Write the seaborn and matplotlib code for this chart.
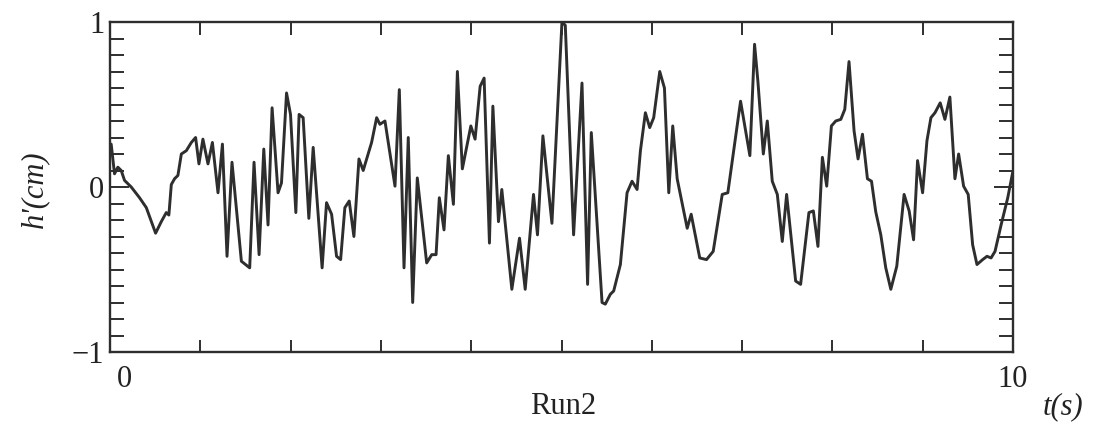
import numpy as np
import pandas as pd
import matplotlib
matplotlib.use("Agg")
import matplotlib.pyplot as plt
import seaborn as sns
from matplotlib.ticker import MultipleLocator

# ---- data ----
t_s = [0.013, 0.05, 0.087, 0.124, 0.161, 0.235, 0.327, 0.402, 0.505, 0.568, 0.623, 0.652, 0.679, 0.715,
       0.752, 0.790, 0.845, 0.901, 0.948, 0.985, 1.029, 1.085, 1.134, 1.196, 1.245, 1.296, 1.351, 1.455,
       1.547, 1.595, 1.651, 1.703, 1.750, 1.795, 1.861, 1.899, 1.955, 1.999, 2.058, 2.094, 2.139, 2.202,
       2.250, 2.349, 2.398, 2.454, 2.509, 2.554, 2.601, 2.649, 2.701, 2.757, 2.804, 2.897, 2.953, 2.989,
       3.045, 3.156, 3.204, 3.256, 3.303, 3.352, 3.403, 3.507, 3.563, 3.611, 3.647, 3.699, 3.747, 3.803,
       3.847, 3.902, 3.996, 4.043, 4.099, 4.143, 4.202, 4.240, 4.302, 4.339, 4.450, 4.535, 4.598, 4.690,
       4.734, 4.794, 4.894, 5.005, 5.042, 5.134, 5.227, 5.289, 5.330, 5.449, 5.485, 5.541, 5.578, 5.652,
       5.726, 5.781, 5.837, 5.874, 5.929, 5.977, 6.021, 6.088, 6.140, 6.188, 6.232, 6.281, 6.392, 6.436,
       6.531, 6.606, 6.680, 6.780, 6.842, 6.983, 7.086, 7.138, 7.175, 7.235, 7.279, 7.334, 7.390, 7.445,
       7.493, 7.593, 7.648, 7.740, 7.789, 7.840, 7.889, 7.937, 7.989, 8.037, 8.093, 8.137, 8.184, 8.240,
       8.284, 8.333, 8.388, 8.433, 8.480, 8.536, 8.591, 8.647, 8.713, 8.794, 8.850, 8.899, 8.943, 8.999,
       9.047, 9.091, 9.136, 9.194, 9.246, 9.301, 9.357, 9.398, 9.453, 9.504, 9.553, 9.601, 9.664, 9.712,
       9.757, 9.801, 9.868, 9.942, 9.997]
h_cm = [0.26, 0.08, 0.12, 0.10, 0.04, 0.0, -0.065, -0.125, -0.28, -0.21, -0.155, -0.17, 0.015, 0.05,
        0.07, 0.20, 0.22, 0.27, 0.30, 0.14, 0.29, 0.14, 0.27, -0.035, 0.26, -0.42, 0.15, -0.45,
        -0.49, 0.15, -0.41, 0.23, -0.23, 0.48, -0.035, 0.025, 0.57, 0.44, -0.155, 0.44, 0.42, -0.19,
        0.24, -0.49, -0.095, -0.165, -0.42, -0.44, -0.125, -0.085, -0.30, 0.17, 0.10, 0.27, 0.42, 0.38,
        0.40, 0.005, 0.59, -0.49, 0.30, -0.70, 0.055, -0.46, -0.41, -0.41, -0.065, -0.26, 0.19, -0.105,
        0.70, 0.11, 0.37, 0.29, 0.61, 0.66, -0.34, 0.49, -0.21, -0.015, -0.62, -0.31, -0.62, -0.045,
        -0.29, 0.31, -0.22, 1.0, 0.98, -0.29, 0.63, -0.59, 0.33, -0.70, -0.71, -0.65, -0.63, -0.47,
        -0.035, 0.035, -0.015, 0.22, 0.45, 0.36, 0.42, 0.70, 0.60, -0.035, 0.37, 0.05, -0.25, -0.165,
        -0.43, -0.44, -0.39, -0.045, -0.035, 0.52, 0.19, 0.865, 0.64, 0.20, 0.40, 0.035, -0.045, -0.33,
        -0.045, -0.57, -0.59, -0.155, -0.145, -0.36, 0.18, 0.005, 0.37, 0.40, 0.41, 0.47, 0.76, 0.34,
        0.17, 0.32, 0.05, 0.035, -0.15, -0.29, -0.49, -0.62, -0.48, -0.045, -0.145, -0.32, 0.16, -0.035,
        0.28, 0.42, 0.45, 0.51, 0.41, 0.545, 0.05, 0.20, 0.005, -0.045, -0.35, -0.47, -0.44, -0.42,
        -0.43, -0.39, -0.23, -0.065, 0.09]

y_tick_vals = [-1, 0, 1]
y_tick_labels = ["\u22121", "0", "1"]
x_label_left = "0"
x_label_right = "10"

df = pd.DataFrame({"t": t_s, "h": h_cm})

sns.set_style("ticks")
plt.rcParams["font.family"] = ["Liberation Serif", "DejaVu Serif"]

ink = "#2e2e2e"
txt = "#222222"
fs = 22
fig = plt.figure(figsize=(10.99, 4.32), dpi=100, facecolor="white")
ax = fig.add_axes([110 / 1099, 1 - 352 / 432, (1013 - 110) / 1099, (352 - 22) / 432])

sns.lineplot(data=df, x="t", y="h", ax=ax, color=ink, linewidth=2.1, sort=False, estimator=None)

ax.set_xlim(0, 10)
ax.set_ylim(-1, 1)

for s in ax.spines.values():
    s.set_linewidth(1.7)
    s.set_color(ink)

# x ticks: majors every 1 s, inward, both top & bottom, no labels
ax.xaxis.set_major_locator(MultipleLocator(1))
ax.tick_params(axis="x", which="major", direction="in", length=9, width=1.4, color=ink,
               top=True, bottom=True, labelbottom=False)
# y ticks
ax.set_yticks(y_tick_vals)
ax.set_yticklabels(y_tick_labels)
ax.yaxis.set_minor_locator(MultipleLocator(0.1))
ax.tick_params(axis="y", which="minor", direction="in", length=10, width=1.4, color=ink,
               left=True, right=True)
ax.tick_params(axis="y", which="major", direction="in", length=14, width=1.4, color=ink,
               left=True, right=True, labelsize=fs, pad=4, labelcolor=txt)

ax.set_xlabel("")
ax.set_ylabel("")

# x end labels
ax.text(0.16, -1.08, x_label_left, ha="center", va="top", fontsize=fs, color=txt,
        transform=ax.transData, clip_on=False)
ax.text(10.0, -1.08, x_label_right, ha="center", va="top", fontsize=fs, color=txt,
        transform=ax.transData, clip_on=False)

fig.text(35 / 1099, 1 - 189 / 432, "h'(cm)", rotation=90, ha="center", va="center",
         fontsize=fs, style="italic", color=txt)
fig.text(563 / 1099, 1 - 406 / 432, "Run2", ha="center", va="center", fontsize=fs, color=txt)
fig.text(1063 / 1099, 1 - 407 / 432, "t(s)", ha="center", va="center", fontsize=fs,
         style="italic", color=txt)

fig.savefig("out.png", dpi=100, facecolor="white")
